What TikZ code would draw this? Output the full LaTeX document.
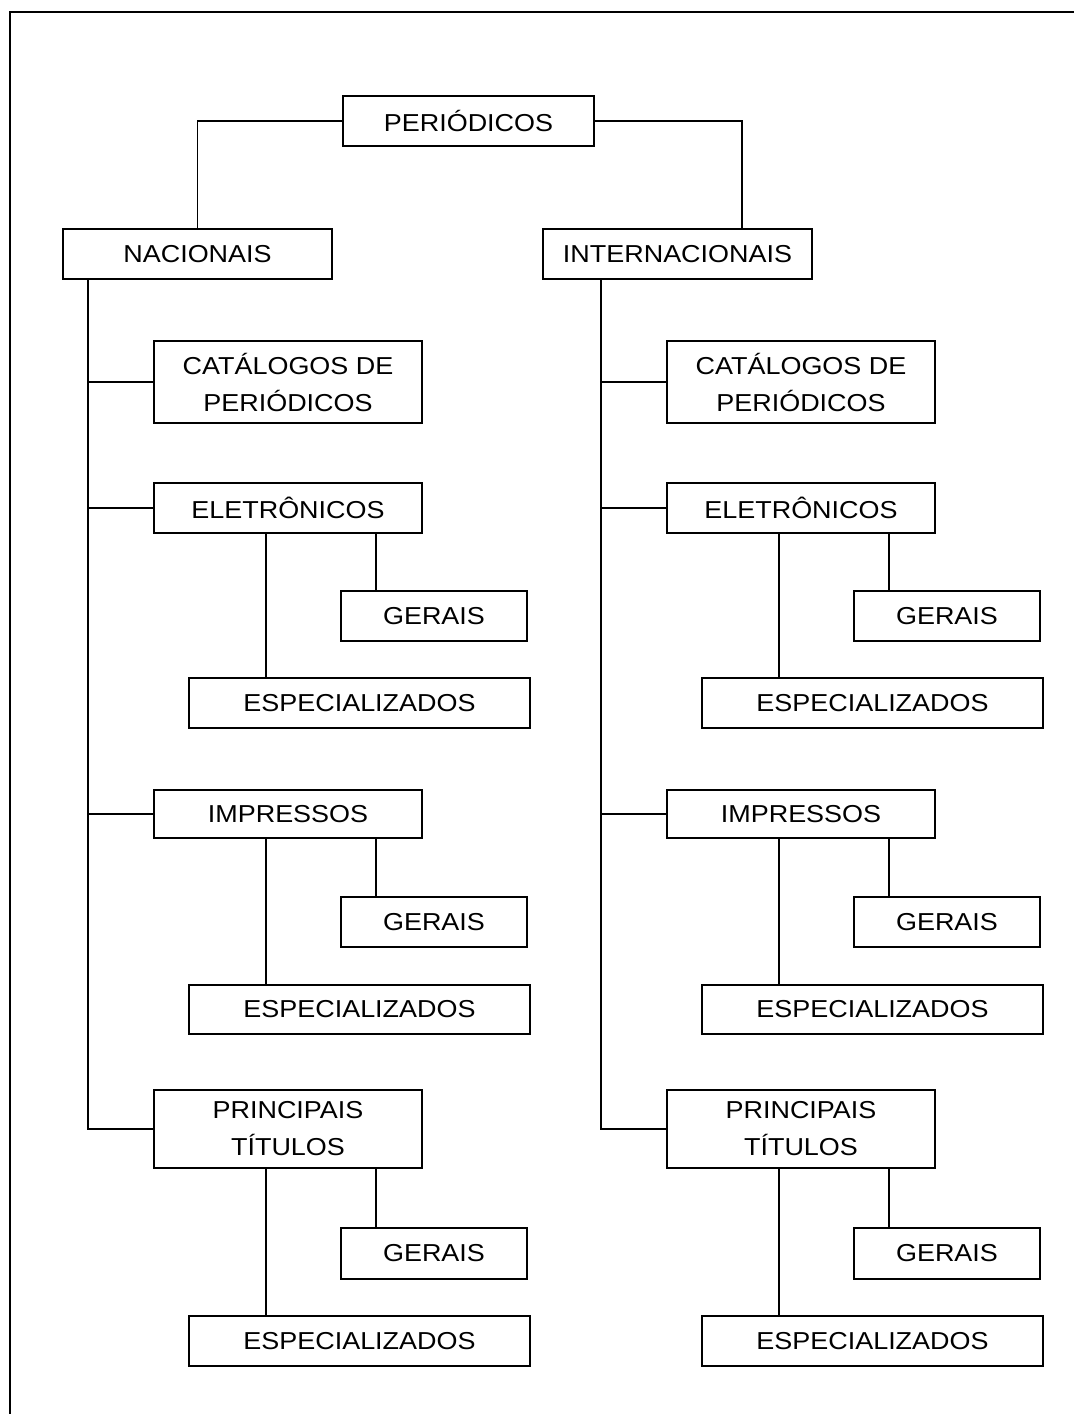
\documentclass[tikz,border=0pt]{standalone}
\usepackage{fontspec}
\setmainfont{Liberation Sans}[FakeStretch=1.1]
\newcommand\bx[6]{\node[box,minimum width={(#4)-(#2)},minimum height={(#5)-(#3)}] (#1) at ({((#2)+(#4))/2},{((#3)+(#5))/2}) {#6};}
\begin{document}
\begin{tikzpicture}[x=1pt,y=-1pt,line width=1.8pt,
  box/.style={draw,line width=1.8pt,inner sep=0pt,align=center,font=\fontsize{24.5}{37}\selectfont},
  link/.style={draw,line width=1.8pt}]
\useasboundingbox (0,0) rectangle (1074,1414);
% frame (top and left only)
\draw[line width=1.8pt] (10,1414) -- (10,12) -- (1074,12);
% top level
\bx{per}{343}{96}{594}{146}{PERIÓDICOS}
\bx{nac}{63}{229}{332}{279}{NACIONAIS}
\bx{int}{543}{229}{812}{279}{INTERNACIONAIS}
\coordinate (intj) at (742,229);
\draw[link] (per.west) -| (nac.north);
\draw[link] (per.east) -| (intj);
% two branches
\foreach \s/\dx in {L/0,R/513}{
  \bx{cat\s}{154+\dx}{341}{422+\dx}{423}{CATÁLOGOS DE\\PERIÓDICOS}
  \bx{ele\s}{154+\dx}{483}{422+\dx}{533}{ELETRÔNICOS}
  \bx{eg\s}{341+\dx}{591}{527+\dx}{641}{GERAIS}
  \bx{ee\s}{189+\dx}{678}{530+\dx}{728}{ESPECIALIZADOS}
  \bx{imp\s}{154+\dx}{790}{422+\dx}{838}{IMPRESSOS}
  \bx{ig\s}{341+\dx}{897}{527+\dx}{947}{GERAIS}
  \bx{ie\s}{189+\dx}{985}{530+\dx}{1034}{ESPECIALIZADOS}
  \bx{pri\s}{154+\dx}{1090}{422+\dx}{1168}{PRINCIPAIS\\TÍTULOS}
  \bx{pg\s}{341+\dx}{1228}{527+\dx}{1279}{GERAIS}
  \bx{pe\s}{189+\dx}{1316}{530+\dx}{1366}{ESPECIALIZADOS}
  % trunk
  \coordinate (top\s) at (88+\dx,279);
  \coordinate (bot\s) at (top\s |- pri\s.west);
  \draw[link] (top\s) -- (bot\s) -- (pri\s.west);
  \draw[link] (top\s |- cat\s.west) -- (cat\s.west);
  \draw[link] (top\s |- ele\s.west) -- (ele\s.west);
  \draw[link] (top\s |- imp\s.west) -- (imp\s.west);
  % sub-branches
  \foreach \p/\g/\e in {ele/eg/ee,imp/ig/ie,pri/pg/pe}{
    \draw[link] (266+\dx,0 |- \p\s.south) -- (266+\dx,0 |- \e\s.north);
    \draw[link] (376+\dx,0 |- \p\s.south) -- (376+\dx,0 |- \g\s.north);
  }
}
\end{tikzpicture}
\end{document}
